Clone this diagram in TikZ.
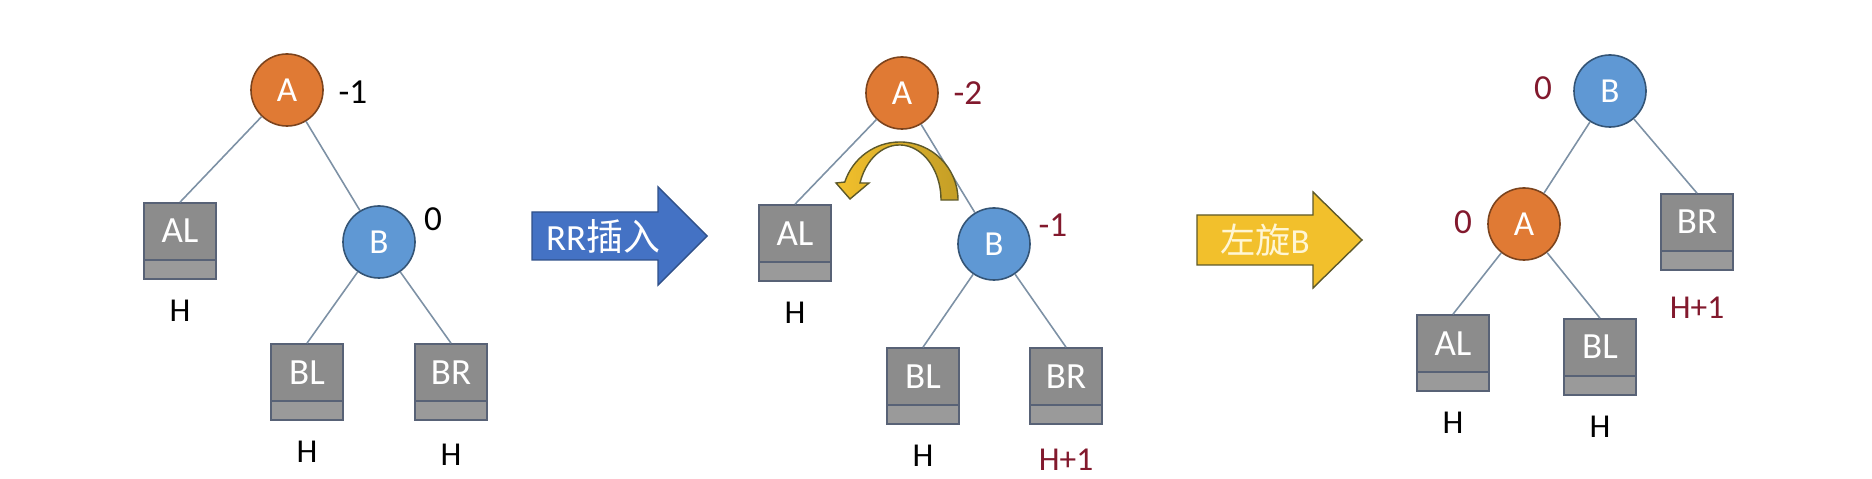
\documentclass[tikz,border=0pt]{standalone}
\usepackage{fontspec}
\setmainfont{Carlito}
\newfontfamily\cjk{Noto Sans CJK SC}
\usetikzlibrary{positioning, calc}

\definecolor{nodeorange}{RGB}{224,122,52}
\definecolor{nodeblue}{RGB}{95,152,212}
\definecolor{leafgray}{RGB}{140,140,140}
\definecolor{leafline}{RGB}{88,98,118}
\definecolor{edgegray}{RGB}{125,145,165}
\definecolor{bfred}{RGB}{130,25,45}
\definecolor{insblue}{RGB}{68,114,196}
\definecolor{rotyellow}{RGB}{242,192,44}
\definecolor{rotgold}{RGB}{196,158,38}

\begin{document}
\begin{tikzpicture}[
    x=0.01cm, y=-0.01cm,
    every node/.style={font=\fontsize{9}{10}\selectfont},
    avl/.style={
        circle, draw=#1!55!black, fill=#1, line width=0.45pt,
        minimum size=0.72cm, inner sep=0pt,
        text=white, font=\fontsize{10}{11}\selectfont
    },
    leaf/.style={
        rectangle, draw=leafline, fill=leafgray, line width=0.45pt,
        minimum width=0.72cm, minimum height=0.76cm, inner sep=0pt,
        text=white, font=\fontsize{10.5}{11}\selectfont,
        text height=2mm, text depth=1.6mm,
        path picture={
            \fill[leafgray!88!white] (path picture bounding box.south west)
                rectangle ([yshift=0.19cm]path picture bounding box.south east);
            \draw[leafline, line width=0.45pt] ([yshift=0.19cm]path picture bounding box.south west)
                -- ([yshift=0.19cm]path picture bounding box.south east);
        }
    },
    hgt/.style={inner sep=0pt, font=\fontsize{9.5}{10}\selectfont},
    bf/.style={inner sep=0pt, font=\fontsize{10}{11}\selectfont},
    edge/.style={draw=edgegray, line width=0.45pt},
    blockarrow/.style={line width=0.4pt, line join=miter}
]
\useasboundingbox (0,0) rectangle (1872,479);

% Tree 1 -- before insertion
\node[avl=nodeorange] (a1) at (287,90) {A};
\node[avl=nodeblue] (b1) at (379,242) {B};
\node[leaf] (al1) at (180,241) {AL};
\node[leaf] (bl1) at (307,382) {BL};
\node[leaf] (br1) at (451,382) {BR};

\draw[edge] (a1) -- (al1.north);
\draw[edge] (a1) -- (b1);
\draw[edge] (b1) -- (bl1.north);
\draw[edge] (b1) -- (br1.north);

\node[bf] (fa1) at ($(a1)+(66,2)$) {-1};
\node[bf] (fb1) at ($(b1)+(54,-23)$) {0};
\node[hgt, below=0.2cm of al1] (hal1) {H};
\node[hgt, below=0.2cm of bl1] (hbl1) {H};
\node[hgt, below=0.23cm of br1] (hbr1) {H};

% RR insertion arrow
\draw[blockarrow, fill=insblue, draw=insblue!70!black]
    (532,212) -- (658,212) -- (658,187) -- (707,236) -- (658,285) -- (658,260) -- (532,260) -- cycle;
\node[text=white, font=\fontsize{10.5}{11}\selectfont] (ins) at (603,236) {RR{\cjk 插入}};

% Tree 2 -- after insertion
\node[avl=nodeorange] (a2) at (902,93) {A};
\node[avl=nodeblue] (b2) at (994,244) {B};
\node[leaf] (al2) at (795,243) {AL};
\node[leaf] (bl2) at (923,386) {BL};
\node[leaf] (br2) at (1066,386) {BR};

\draw[edge] (a2) -- (al2.north);
\draw[edge] (a2) -- (b2);
\draw[edge] (b2) -- (bl2.north);
\draw[edge] (b2) -- (br2.north);

\node[bf, text=bfred] (fa2) at ($(a2)+(66,0)$) {-2};
\node[bf, text=bfred] (fb2) at ($(b2)+(59,-19)$) {-1};
\node[hgt, below=0.2cm of al2] (hal2) {H};
\node[hgt, below=0.2cm of bl2] (hbl2) {H};
\node[hgt, text=bfred, below=0.23cm of br2] (hbr2) {H+1};

% curved rotation arrow
\coordinate (turn) at (900,200);
\begin{scope}[shift={(turn)}, x=0.01cm, y=0.01cm]
\shade[left color=rotyellow, right color=rotgold,
       draw=black!45!olive, line width=0.4pt, line join=miter]
    (58,0) arc[start angle=0, end angle=162, radius=0.58cm]
    -- (-64,17) -- (-50,1) -- (-31,17) -- (-40,17)
    arc[start angle=162, end angle=0, x radius=0.415cm, y radius=0.55cm]
    -- cycle;
\end{scope}

% Left rotation arrow
\draw[blockarrow, fill=rotyellow, draw=black!45!olive]
    (1197,215) -- (1313,215) -- (1313,192) -- (1362,240) -- (1313,288) -- (1313,265) -- (1197,265) -- cycle;
\node[text={rgb,255:red,255;green,246;blue,212}, font=\fontsize{10}{11}\selectfont] (rot) at (1265,240) {{\cjk 左旋}B};

% Tree 3 -- after rotation
\node[avl=nodeblue] (b3) at (1610,91) {B};
\node[avl=nodeorange] (a3) at (1524,224) {A};
\node[leaf] (br3) at (1697,232) {BR};
\node[leaf] (al3) at (1453,353) {AL};
\node[leaf] (bl3) at (1600,357) {BL};

\draw[edge] (b3) -- (a3);
\draw[edge] (b3) -- (br3.north);
\draw[edge] (a3) -- (al3.north);
\draw[edge] (a3) -- (bl3.north);

\node[bf, text=bfred] (fb3) at ($(b3)+(-67,-3)$) {0};
\node[bf, text=bfred] (fa3) at ($(a3)+(-61,-2)$) {0};
\node[hgt, text=bfred, below=0.25cm of br3] (hbr3) {H+1};
\node[hgt, below=0.2cm of al3] (hal3) {H};
\node[hgt, below=0.2cm of bl3] (hbl3) {H};

\end{tikzpicture}
\end{document}
